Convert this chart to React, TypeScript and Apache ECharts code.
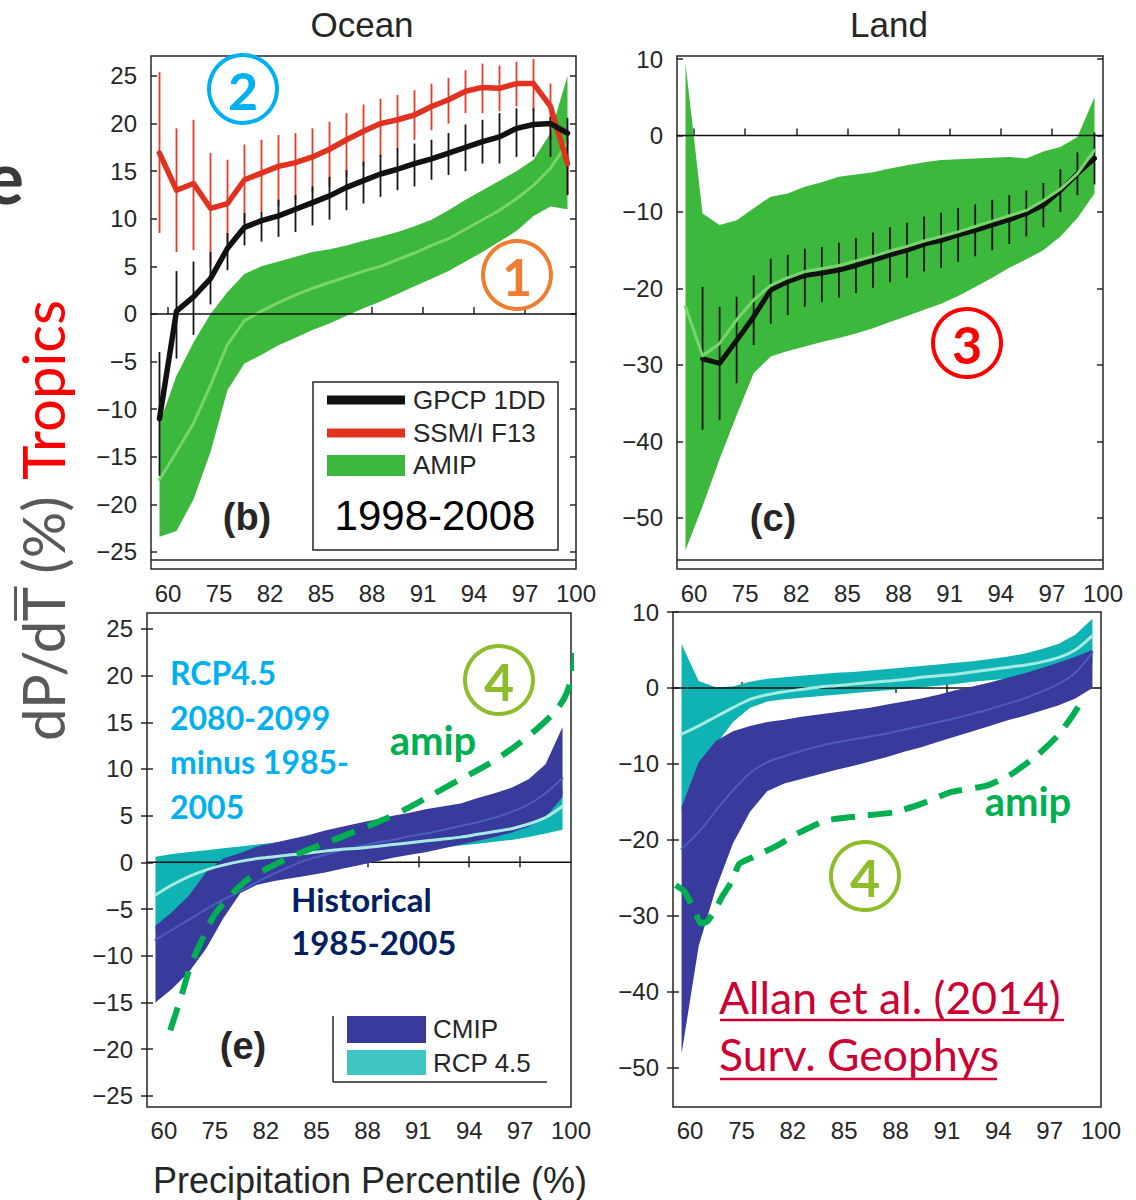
import React, { useEffect, useRef } from 'react';
import * as echarts from 'echarts';

// ---------- axis structure ----------
const BIN_X = [0.5, 1.5, 2.5, 3.5, 4.5, 5.5, 6.5, 7.5, 8.5, 9.5, 10.5, 11.5, 12.5, 13.5, 14.5, 15.5, 16.5, 17.5, 18.5, 19.5, 20.5, 21.5, 22.5, 23.5, 24.5];
const X_TICK_POS = [1, 4, 7, 10, 13, 16, 19, 22, 25];
const X_TICK_LABELS = ['60', '75', '82', '85', '88', '91', '94', '97', '100'];
const Y_TICKS_OCEAN = [-25, -20, -15, -10, -5, 0, 5, 10, 15, 20, 25];
const Y_TICKS_LAND = [-50, -40, -30, -20, -10, 0, 10];
const ZERO_X = [0, 25];
const ZERO_Y = [0, 0];

// ---------- (b) Ocean, observations ----------
const OCEAN_GPCP = [-11.0, 0.3, 1.8, 3.7, 6.9, 9.1, 9.8, 10.3, 11.0, 11.7, 12.4, 13.3, 14.0, 14.7, 15.2, 15.8, 16.3, 16.9, 17.5, 18.1, 18.6, 19.5, 19.9, 20.0, 19.0];
const OCEAN_GPCP_LO = [-17.0, -4.7, -2.2, 1.0, 4.6, 7.2, 7.6, 8.1, 8.6, 9.3, 9.9, 10.9, 11.6, 12.3, 13.0, 13.4, 14.1, 14.6, 15.0, 15.8, 15.8, 16.5, 16.5, 16.5, 12.5];
const OCEAN_GPCP_HI = [-4.0, 4.5, 5.5, 6.5, 8.5, 10.6, 10.7, 12.0, 12.5, 13.4, 14.4, 15.1, 16.0, 16.7, 17.4, 17.9, 18.3, 19.0, 19.9, 20.4, 21.1, 21.6, 21.6, 20.7, 20.6];
const OCEAN_SSMI = [16.9, 13.0, 13.7, 11.1, 11.6, 14.1, 14.8, 15.5, 15.9, 16.5, 17.3, 18.3, 19.2, 20.0, 20.4, 20.9, 21.8, 22.5, 23.4, 23.8, 23.7, 24.2, 24.2, 21.8, 15.8];
const OCEAN_SSMI_LO = [8.5, 6.5, 6.7, 5.0, 7.4, 9.5, 10.6, 11.3, 12.0, 12.7, 13.4, 14.4, 15.5, 16.5, 17.2, 18.3, 19.3, 20.0, 21.1, 21.1, 21.3, 21.8, 21.3, 18.3, 12.5];
const OCEAN_SSMI_HI = [25.4, 19.5, 20.4, 16.9, 16.2, 17.8, 18.3, 18.8, 19.0, 19.5, 20.2, 21.1, 22.0, 22.6, 23.0, 23.5, 24.2, 24.8, 25.6, 26.3, 26.1, 26.5, 26.8, 24.2, 18.6];
const OCEAN_AMIP_MID = [-17.4, -14.5, -11.5, -7.5, -3.2, -0.7, 0.3, 1.2, 2.0, 2.7, 3.3, 3.9, 4.5, 5.0, 5.7, 6.4, 7.2, 7.9, 8.9, 9.9, 10.9, 12.1, 13.5, 15.3, 18.0];
const OCEAN_AMIP_LO = [-23.4, -22.8, -19.5, -14.5, -8.0, -5.2, -4.3, -3.3, -2.5, -1.7, -1.0, -0.2, 0.6, 1.3, 2.1, 2.9, 3.7, 4.5, 5.5, 6.5, 7.6, 8.7, 10.3, 11.3, 11.0];
const OCEAN_AMIP_HI = [-11.5, -6.5, -3.0, 0.0, 2.3, 4.2, 5.0, 5.5, 6.0, 6.5, 6.8, 7.2, 7.7, 8.1, 8.6, 9.2, 9.9, 10.9, 12.0, 13.0, 14.0, 15.0, 16.2, 19.0, 25.0];

// ---------- (c) Land, observations ----------
const LAND_GPCP = [null, -29.2, -29.8, -26.8, -23.7, -20.2, -19.1, -18.3, -18.0, -17.6, -17.0, -16.3, -15.6, -15.0, -14.2, -13.7, -13.0, -12.4, -11.7, -11.0, -10.2, -9.1, -7.2, -5.0, -3.0];
const LAND_GPCP_LO = [null, -38.5, -37.2, -32.4, -27.4, -24.6, -23.5, -22.4, -21.8, -21.2, -20.6, -19.9, -19.2, -18.6, -17.8, -17.3, -16.5, -15.8, -15.0, -14.2, -13.2, -12.0, -10.0, -7.8, -6.4];
const LAND_GPCP_HI = [null, -19.8, -22.4, -21.1, -18.3, -16.1, -15.6, -14.8, -14.6, -14.0, -13.4, -12.7, -12.0, -11.4, -10.6, -10.1, -9.5, -9.0, -8.4, -7.8, -7.2, -6.2, -4.4, -2.2, 0.4];
const LAND_AMIP_MID = [-22.4, -28.8, -27.2, -24.1, -21.5, -19.6, -18.6, -17.8, -17.4, -17.0, -16.4, -15.8, -15.1, -14.5, -13.8, -13.2, -12.6, -11.9, -11.2, -10.5, -9.8, -8.5, -7.0, -5.0, -1.9];
const LAND_AMIP_LO = [-54.2, -48.5, -42.3, -36.6, -31.1, -28.9, -28.2, -27.6, -27.0, -26.5, -25.9, -25.2, -24.4, -23.6, -22.8, -22.0, -21.0, -19.8, -18.6, -17.3, -16.2, -15.0, -13.2, -10.8, -7.6];
const LAND_AMIP_HI = [9.4, -10.2, -11.7, -11.1, -9.5, -8.0, -7.6, -6.7, -6.1, -5.4, -5.1, -4.8, -4.3, -3.9, -3.5, -3.2, -3.1, -3.0, -2.9, -2.8, -3.0, -2.1, -1.5, -0.2, 5.0];

// ---------- (e) Ocean, models ----------
const OCEAN_CMIP_MID = [-8.3, -7.2, -6.1, -5.0, -4.0, -3.1, -2.1, -1.2, -0.4, 0.3, 0.8, 1.3, 1.7, 2.1, 2.4, 2.8, 3.1, 3.5, 3.9, 4.3, 4.8, 5.4, 6.2, 7.4, 9.0];
const OCEAN_CMIP_LO = [-15.0, -13.5, -11.7, -9.2, -6.0, -3.3, -2.4, -2.0, -1.7, -1.4, -1.1, -0.7, -0.3, 0.1, 0.5, 0.8, 1.1, 1.5, 1.9, 2.3, 2.7, 3.2, 3.8, 4.8, 7.0];
const OCEAN_CMIP_HI = [-6.8, -5.3, -3.5, -1.0, 0.4, 1.0, 1.7, 2.1, 2.5, 2.9, 3.4, 3.8, 4.2, 4.6, 5.0, 5.3, 5.7, 6.0, 6.3, 6.9, 7.4, 8.0, 8.9, 10.5, 14.5];
const OCEAN_RCP_MID = [-3.5, -2.4, -1.5, -0.8, -0.3, 0.1, 0.4, 0.6, 0.8, 1.0, 1.2, 1.4, 1.5, 1.7, 1.9, 2.1, 2.3, 2.5, 2.7, 3.0, 3.3, 3.6, 4.1, 4.8, 6.0];
const OCEAN_RCP_LO = [-7.5, -5.6, -3.9, -2.4, -1.4, -0.8, -0.4, -0.1, 0.1, 0.3, 0.5, 0.6, 0.8, 0.9, 1.1, 1.2, 1.4, 1.6, 1.8, 2.0, 2.2, 2.4, 2.7, 3.1, 3.5];
const OCEAN_RCP_HI = [0.6, 0.9, 1.1, 1.3, 1.5, 1.7, 1.9, 2.1, 2.3, 2.5, 2.7, 2.9, 3.1, 3.3, 3.5, 3.7, 3.9, 4.1, 4.3, 4.6, 4.9, 5.3, 5.9, 6.8, 8.2];
const OCEAN_AMIP_DASH_X = [1.37, 1.96, 2.55, 3.14, 3.92, 4.71, 5.89, 7.27, 9.03, 11.98, 14.93, 17.87, 20.82, 23.37, 24.55, 25.04, 25.24];
const OCEAN_AMIP_DASH_Y = [-18.0, -14.7, -11.2, -8.7, -5.8, -4.0, -1.9, -0.5, 1.0, 3.1, 5.4, 8.3, 11.3, 14.9, 17.4, 19.9, 22.4];

// ---------- (f) Land, models ----------
const LAND_CMIP_MID = [-21.2, -19.0, -16.2, -13.5, -11.2, -9.8, -9.0, -8.3, -7.7, -7.2, -6.8, -6.4, -6.0, -5.5, -5.0, -4.5, -4.0, -3.4, -2.8, -2.1, -1.4, -0.5, 0.5, 2.0, 4.7];
const LAND_CMIP_LO = [-48.2, -34.0, -26.5, -20.5, -16.3, -13.6, -12.6, -12.0, -11.4, -10.8, -10.3, -9.7, -9.1, -8.4, -7.8, -7.1, -6.4, -5.7, -5.0, -4.3, -3.7, -3.0, -2.3, -1.4, 0.0];
const LAND_CMIP_HI = [-15.7, -9.8, -7.0, -5.7, -5.0, -4.5, -4.2, -3.8, -3.5, -3.2, -2.9, -2.6, -2.2, -1.8, -1.4, -0.9, -0.3, 0.2, 0.7, 1.3, 1.9, 2.6, 3.3, 4.1, 5.0];
const LAND_RCP_MID = [-6.1, -5.0, -3.8, -2.6, -1.5, -0.9, -0.5, -0.2, 0.1, 0.3, 0.5, 0.7, 0.9, 1.1, 1.4, 1.6, 1.8, 2.1, 2.4, 2.7, 3.0, 3.4, 4.0, 5.0, 6.9];
const LAND_RCP_LO = [-16.1, -11.0, -7.5, -4.5, -2.6, -1.8, -1.5, -1.3, -1.1, -0.9, -0.7, -0.5, -0.3, -0.1, 0.1, 0.3, 0.5, 0.8, 1.0, 1.2, 1.4, 1.7, 2.0, 2.4, 3.0];
const LAND_RCP_HI = [5.8, 0.9, 0.1, 0.2, 0.8, 1.2, 1.4, 1.6, 1.8, 2.0, 2.1, 2.3, 2.5, 2.7, 2.9, 3.1, 3.3, 3.5, 3.8, 4.1, 4.5, 5.1, 5.8, 7.0, 9.1];
const LAND_AMIP_DASH_X = [0.16, 0.66, 1.26, 1.62, 1.98, 2.46, 2.86, 3.46, 3.86, 4.66, 6.06, 7.26, 8.87, 10.46, 12.86, 14.47, 16.27, 18.27, 19.67, 21.27, 22.47, 23.27, 23.97];
const LAND_AMIP_DASH_Y = [-26.0, -26.8, -29.3, -31.0, -30.8, -29.3, -27.5, -25.4, -23.2, -22.3, -20.8, -19.2, -17.5, -17.0, -16.4, -15.3, -13.7, -12.9, -11.5, -8.9, -6.3, -3.9, -1.4];

// ---------- styling ----------
const FIG_FONT = '"Liberation Sans", Arial, sans-serif';
const ANN_FONT = 'Lato, "Open Sans", sans-serif';
const INK = '#262626';
const GREEN = '#3cb83c';
const GREEN_MID = '#78d46c';
const NAVY = '#393b9c';
const NAVY_MID = '#4c5cc0';
const TEAL = '#10b3b3';
const TEAL_MID = '#a6ebe2';
const AMIP_DASH = '#00b050';

const GRIDS = [
  { left: 151, top: 56, width: 425, height: 513, min: -26.8, max: 27.1, ticks: Y_TICKS_OCEAN, topTicks: false },
  { left: 677, top: 56, width: 426, height: 513, min: -56.7, max: 10.4, ticks: Y_TICKS_LAND, topTicks: false },
  { left: 147, top: 613, width: 424, height: 494, min: -26.2, max: 26.7, ticks: Y_TICKS_OCEAN, topTicks: true },
  { left: 673, top: 612, width: 428, height: 495, min: -55.2, max: 10.0, ticks: Y_TICKS_LAND, topTicks: true },
];

const fmtY = (v: number) => (v < 0 ? '\u2212' + Math.abs(v) : String(v));
const fmtX = (v: number) => {
  const i = X_TICK_POS.indexOf(Math.round(v));
  return i >= 0 ? X_TICK_LABELS[i] : '';
};

function bandSeries(g: number, lo: number[], hi: number[], color: string, z: number) {
  return {
    type: 'custom',
    xAxisIndex: g,
    yAxisIndex: g,
    z,
    silent: true,
    data: [[BIN_X[0], lo[0], hi[0]]],
    renderItem: (_p: any, api: any) => {
      const pts: number[][] = [];
      for (let i = 0; i < BIN_X.length; i++) pts.push(api.coord([BIN_X[i], hi[i]]));
      for (let i = BIN_X.length - 1; i >= 0; i--) pts.push(api.coord([BIN_X[i], lo[i]]));
      return { type: 'polygon', shape: { points: pts, smooth: 0 }, style: { fill: color } };
    },
  };
}

function lineSeries(g: number, xs: number[], ys: (number | null)[], color: string, width: number, z: number, extra: any = {}) {
  return {
    type: 'line',
    xAxisIndex: g,
    yAxisIndex: g,
    z,
    silent: true,
    symbol: 'none',
    showSymbol: false,
    data: xs.map((x, i) => [x, ys[i] === null ? '-' : ys[i]]),
    lineStyle: { color, width, cap: 'round', join: 'round' },
    ...extra,
  };
}

function errorBars(g: number, lo: (number | null)[], hi: (number | null)[], color: string, width: number, z: number) {
  const data: number[][] = [];
  BIN_X.forEach((x, i) => {
    if (lo[i] !== null && hi[i] !== null) data.push([x, lo[i] as number, hi[i] as number]);
  });
  return {
    type: 'custom',
    xAxisIndex: g,
    yAxisIndex: g,
    z,
    silent: true,
    data,
    renderItem: (_p: any, api: any) => {
      const a = api.coord([api.value(0), api.value(1)]);
      const b = api.coord([api.value(0), api.value(2)]);
      return { type: 'line', shape: { x1: a[0], y1: a[1], x2: b[0], y2: b[1] }, style: { stroke: color, lineWidth: width } };
    },
  };
}

function buildOption() {
  const grid = GRIDS.map((g) => ({
    left: g.left, top: g.top, width: g.width, height: g.height,
    show: true, borderColor: INK, borderWidth: 1.5, backgroundColor: 'transparent', containLabel: false,
  }));

  const xAxis: any[] = [];
  GRIDS.forEach((g, i) => {
    xAxis.push({
      type: 'value', gridIndex: i, min: 0, max: 25, position: 'bottom',
      axisLine: { show: false }, splitLine: { show: false },
      axisTick: { show: true, inside: true, length: g.topTicks ? 6 : 7, customValues: X_TICK_POS.slice(0, 8), lineStyle: { color: INK, width: 1.5 } },
      axisLabel: { show: true, customValues: X_TICK_POS, formatter: fmtX, fontSize: 24, fontFamily: FIG_FONT, color: INK, margin: g.topTicks ? 11 : 12 },
    });
  });
  GRIDS.forEach((g, i) => {
    if (!g.topTicks) return;
    xAxis.push({
      type: 'value', gridIndex: i, min: 0, max: 25, position: 'top',
      axisLine: { show: false }, splitLine: { show: false },
      axisTick: { show: true, inside: true, length: 5, customValues: X_TICK_POS.slice(0, 8), lineStyle: { color: INK, width: 1.5 } },
      axisLabel: { show: false },
    });
  });

  const yAxis: any[] = [];
  GRIDS.forEach((g, i) => {
    yAxis.push({
      type: 'value', gridIndex: i, min: g.min, max: g.max, position: 'left',
      axisLine: { show: false }, splitLine: { show: false },
      axisTick: { show: true, inside: true, length: 6, customValues: g.ticks, lineStyle: { color: INK, width: 1.5 } },
      axisLabel: { show: true, customValues: g.ticks, formatter: fmtY, fontSize: 24, fontFamily: FIG_FONT, color: INK, margin: 14 },
    });
  });
  GRIDS.forEach((g, i) => {
    yAxis.push({
      type: 'value', gridIndex: i, min: g.min, max: g.max, position: 'right',
      axisLine: { show: false }, splitLine: { show: false },
      axisTick: { show: true, inside: true, length: 6, customValues: g.ticks, lineStyle: { color: INK, width: 1.5 } },
      axisLabel: { show: false },
    });
  });

  const series: any[] = [
    // (b) Ocean obs
    bandSeries(0, OCEAN_AMIP_LO, OCEAN_AMIP_HI, GREEN, 1),
    lineSeries(0, BIN_X, OCEAN_AMIP_MID, GREEN_MID, 3, 2),
    lineSeries(0, ZERO_X, ZERO_Y, '#111', 1.5, 3),
    errorBars(0, OCEAN_SSMI_LO, OCEAN_SSMI_HI, '#e8392a', 1.8, 4),
    errorBars(0, OCEAN_GPCP_LO, OCEAN_GPCP_HI, '#151515', 1.8, 5),
    lineSeries(0, BIN_X, OCEAN_SSMI, '#e0321f', 5.5, 6),
    lineSeries(0, BIN_X, OCEAN_GPCP, '#111', 5.5, 7),
    // (c) Land obs
    bandSeries(1, LAND_AMIP_LO, LAND_AMIP_HI, GREEN, 1),
    lineSeries(1, ZERO_X, ZERO_Y, '#111', 1.5, 3),
    errorBars(1, LAND_GPCP_LO, LAND_GPCP_HI, '#151515', 1.8, 4),
    lineSeries(1, BIN_X, LAND_GPCP, '#111', 5, 5),
    lineSeries(1, BIN_X, LAND_AMIP_MID, GREEN_MID, 3, 6),
    // (e) Ocean models
    bandSeries(2, OCEAN_RCP_LO, OCEAN_RCP_HI, TEAL, 1),
    lineSeries(2, ZERO_X, ZERO_Y, '#111', 1.5, 2),
    bandSeries(2, OCEAN_CMIP_LO, OCEAN_CMIP_HI, NAVY, 3),
    lineSeries(2, BIN_X, OCEAN_CMIP_MID, NAVY_MID, 2, 4, { smooth: 0.3 }),
    lineSeries(2, BIN_X, OCEAN_RCP_MID, TEAL_MID, 3, 5, { smooth: 0.3 }),
    lineSeries(2, OCEAN_AMIP_DASH_X, OCEAN_AMIP_DASH_Y, AMIP_DASH, 6, 8, {
      smooth: 0.35, clip: false, lineStyle: { color: AMIP_DASH, width: 6, type: [24, 14], cap: 'butt' },
    }),
    // (f) Land models
    bandSeries(3, LAND_RCP_LO, LAND_RCP_HI, TEAL, 1),
    lineSeries(3, ZERO_X, ZERO_Y, '#111', 1.5, 2),
    bandSeries(3, LAND_CMIP_LO, LAND_CMIP_HI, NAVY, 3),
    lineSeries(3, BIN_X, LAND_CMIP_MID, NAVY_MID, 2, 4, { smooth: 0.3 }),
    lineSeries(3, BIN_X, LAND_RCP_MID, TEAL_MID, 3, 5, { smooth: 0.3 }),
    lineSeries(3, LAND_AMIP_DASH_X, LAND_AMIP_DASH_Y, AMIP_DASH, 6, 8, {
      smooth: 0.15, clip: false, lineStyle: { color: AMIP_DASH, width: 6, type: [24, 13], cap: 'butt' },
    }),
  ];

  return { animation: false, backgroundColor: '#ffffff', grid, xAxis, yAxis, series };
}

function buildGraphics() {
  const canvas = document.createElement('canvas');
  const ctx = canvas.getContext('2d') as CanvasRenderingContext2D;
  const titleSize = 58;
  ctx.font = `${titleSize}px Lato`;
  const wLeft = ctx.measureText('dP/dT (%) ').width;
  const wPd = ctx.measureText('dP/d').width;
  const wT = ctx.measureText('T').width;
  const overY = -(0.37 * titleSize + 5);

  const T = (text: string, x: number, y: number, o: any = {}) => ({
    type: 'text', x, y, z: 100, silent: true,
    style: {
      text, fill: o.fill || INK, fontSize: o.size || 24, fontFamily: o.family || FIG_FONT,
      fontWeight: o.weight || 'normal', textAlign: o.align || 'left', textVerticalAlign: 'middle',
    },
  });
  const L = (x1: number, y1: number, x2: number, y2: number, stroke: string, w: number) => ({
    type: 'line', z: 100, silent: true, shape: { x1, y1, x2, y2 }, style: { stroke, lineWidth: w },
  });
  const circled = (cx: number, cy: number, label: string, color: string) => [
    { type: 'circle', z: 100, silent: true, shape: { cx, cy, r: 34 }, style: { fill: 'none', stroke: color, lineWidth: 4 } },
    T(label, cx, cy + 1, { fill: color, size: 52, weight: 'bold', family: ANN_FONT, align: 'center' }),
  ];

  const ANN = (text: string, x: number, y: number, size: number, fill: string, weight = 'bold', align = 'left') =>
    T(text, x, y, { size, fill, weight, family: ANN_FONT, align });

  const els: any[] = [
    // slide fragment and titles
    T('e', 24, 176, { fill: '#3a3a3a', size: 72, weight: 'bold', family: ANN_FONT, align: 'right' }),
    T('Ocean', 362, 24, { size: 35, align: 'center' }),
    T('Land', 889, 24, { size: 35, align: 'center' }),
    T('Precipitation Percentile (%)', 370, 1180, { size: 36, align: 'center' }),
    {
      type: 'group', x: 42, y: 741, rotation: Math.PI / 2, z: 100,
      children: [
        { type: 'text', x: 0, y: 0, z: 100, style: { text: 'dP/dT (%)', fill: '#595959', fontSize: titleSize, fontFamily: ANN_FONT, textAlign: 'left', textVerticalAlign: 'middle' } },
        { type: 'text', x: wLeft, y: 0, z: 100, style: { text: 'Tropics', fill: '#ff0000', fontSize: titleSize, fontFamily: ANN_FONT, textAlign: 'left', textVerticalAlign: 'middle' } },
        { type: 'line', z: 100, shape: { x1: wPd, y1: overY, x2: wPd + wT, y2: overY }, style: { stroke: '#595959', lineWidth: 3 } },
      ],
    },
    // x-axis strips of (b) and (c)
    L(151, 560, 576, 560, INK, 1.5),
    L(677, 560, 1103, 560, INK, 1.5),
    // legend (b)
    { type: 'rect', z: 99, silent: true, shape: { x: 313, y: 382, width: 245, height: 168 }, style: { fill: '#fff', stroke: INK, lineWidth: 1.5 } },
    L(327, 400, 405, 400, '#111', 9),
    L(327, 433, 405, 433, '#e0321f', 9),
    { type: 'rect', z: 100, silent: true, shape: { x: 327, y: 455, width: 78, height: 21 }, style: { fill: GREEN } },
    T('GPCP 1DD', 413, 400, { size: 26 }),
    T('SSM/I F13', 413, 433, { size: 26 }),
    T('AMIP', 413, 465, { size: 26 }),
    T('1998-2008', 435, 515, { size: 42, fill: '#000', align: 'center' }),
    // panel letters
    T('(b)', 247, 517, { size: 38, weight: 'bold', align: 'center' }),
    T('(c)', 773, 518, { size: 38, weight: 'bold', align: 'center' }),
    T('(e)', 243, 1046, { size: 38, weight: 'bold', align: 'center' }),
    // legend (e)
    L(333, 1016, 333, 1082, INK, 1.5),
    L(333, 1082, 547, 1082, INK, 1.5),
    { type: 'rect', z: 100, silent: true, shape: { x: 347, y: 1016, width: 79, height: 27 }, style: { fill: NAVY } },
    { type: 'rect', z: 100, silent: true, shape: { x: 347, y: 1050, width: 79, height: 25 }, style: { fill: '#3fc6c4' } },
    T('CMIP', 433, 1029, { size: 26 }),
    T('RCP 4.5', 433, 1063, { size: 26 }),
    // annotations
    ...circled(243, 89, '2', '#00b0f0'),
    ...circled(517, 275, '1', '#ed7d31'),
    ...circled(967, 343, '3', '#ff0000'),
    ...circled(499, 680, '4', '#8fbc2b'),
    ...circled(865, 876, '4', '#8fbc2b'),
    ANN('RCP4.5', 170, 672, 32, '#00b0f0'),
    ANN('2080-2099', 170, 717, 32, '#00b0f0'),
    ANN('minus 1985-', 170, 761, 32, '#00b0f0'),
    ANN('2005', 170, 806, 32, '#00b0f0'),
    ANN('Historical', 291, 899, 33, '#002060'),
    ANN('1985-2005', 291, 942, 33, '#002060'),
    ANN('amip', 433, 740, 40, AMIP_DASH, 'bold', 'center'),
    ANN('amip', 1028, 801, 40, AMIP_DASH, 'bold', 'center'),
    ANN('Allan et al. (2014)', 719, 996, 44.5, '#cc0033', 'normal'),
    ANN('Surv. Geophys', 719, 1053, 44.5, '#cc0033', 'normal'),
    L(720, 1020, 1064, 1020, '#cc0033', 2.5),
    L(720, 1079, 997, 1079, '#cc0033', 2.5),
  ];
  return els;
}

export default function App() {
  const ref = useRef<HTMLDivElement>(null);
  useEffect(() => {
    document.body.style.margin = '0';
    if (!ref.current) return;
    const chart = echarts.init(ref.current, undefined, { renderer: 'svg' });
    const option: any = buildOption();
    option.graphic = { elements: buildGraphics() };
    chart.setOption(option);
    return () => chart.dispose();
  }, []);
  return <div ref={ref} style={{ width: 1136, height: 1200 }} />;
}
